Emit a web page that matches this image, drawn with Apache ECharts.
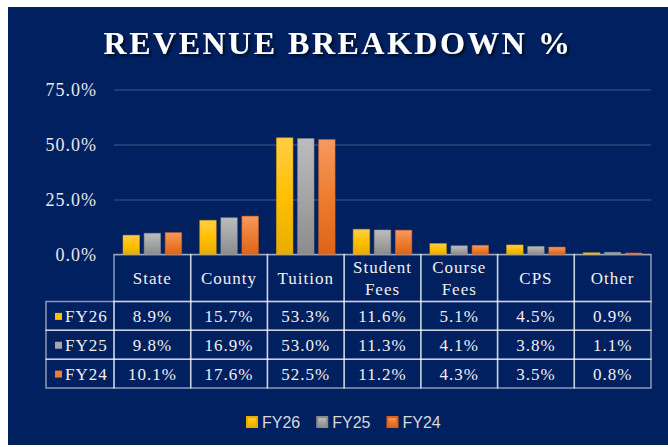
<!DOCTYPE html>
<html>
<head>
<meta charset="utf-8">
<script src="https://cdn.jsdelivr.net/npm/echarts@6/dist/echarts.min.js"></script>
<style>
  html, body { margin: 0; padding: 0; background: #fff; }
  #main { position: absolute; left: 8px; top: 7px; width: 660px; height: 438px; }
  #main text { letter-spacing: 1px; }
  #main text[style*="32px"] { letter-spacing: 2.5px; }
  #main text[style*="16px"] { letter-spacing: 0; }
</style>
</head>
<body>
<div id="main"></div>
<script>
// categories and values (percent of revenue)
var categories = ['State', 'County', 'Tuition', 'Student\nFees', 'Course\nFees', 'CPS', 'Other'];
var years = ['FY26', 'FY25', 'FY24'];
var fy26 = [8.9, 15.7, 53.3, 11.6, 5.1, 4.5, 0.9];
var fy25 = [9.8, 16.9, 53.0, 11.3, 4.1, 3.8, 1.1];
var fy24 = [10.1, 17.6, 52.5, 11.2, 4.3, 3.5, 0.8];
var yTicks = [0, 25, 50, 75];

var seriesValues = [fy26, fy25, fy24];
var colors = ['#ffc000', '#a5a5a5', '#ed7d31'];
var grads = [
  ['#ffcd4a', '#ffc000', '#e6ad00'],
  ['#bcbcbc', '#a5a5a5', '#8c8c8c'],
  ['#f59a62', '#ed7d31', '#dc6418']
];
var lineCol = 'rgba(255,255,255,0.55)';
var serif = '"Liberation Serif", "Times New Roman", serif';
var textCol = '#f0f0f0';

function pct(v) { return v.toFixed(1) + '%'; }

var myChart = echarts.init(document.getElementById('main'), null, { renderer: 'svg' });

var barSeries = years.map(function (name, k) {
  return {
    name: name,
    type: 'bar',
    xAxisIndex: 0,
    yAxisIndex: 0,
    barWidth: 17,
    barGap: '24%',
    data: seriesValues[k],
    itemStyle: {
      color: new echarts.graphic.LinearGradient(0, 0, 0, 1, [
        { offset: 0, color: grads[k][0] },
        { offset: 0.5, color: grads[k][1] },
        { offset: 1, color: grads[k][2] }
      ]),
      borderColor: grads[k][2],
      borderWidth: 0.5
    }
  };
});

// data table under the bars, one column per category
var tableSeries = {
  type: 'custom',
  name: 'table',
  xAxisIndex: 1,
  yAxisIndex: 1,
  clip: false,
  silent: true,
  data: categories.map(function (c, i) { return [i, 0]; }),
  renderItem: function (params, api) {
    var i = api.value(0);
    var cs = params.coordSys;
    var cx = api.coord([i, 0])[0];
    var w = api.size([1, 0])[0];
    var x0 = cx - w / 2;
    var headH = 47;
    var rowH = (cs.height - headH) / 3;
    var kids = [];
    kids.push({
      type: 'rect',
      shape: { x: x0, y: cs.y, width: w, height: headH },
      style: { fill: 'none', stroke: lineCol, lineWidth: 1.5 }
    });
    kids.push({
      type: 'text',
      style: {
        text: categories[i], x: cx, y: cs.y + headH / 2,
        align: 'center', verticalAlign: 'middle',
        fill: textCol, font: '17px ' + serif, lineHeight: 22
      }
    });
    for (var r = 0; r < 3; r++) {
      var ry = cs.y + headH + r * rowH;
      kids.push({
        type: 'rect',
        shape: { x: x0, y: ry, width: w, height: rowH },
        style: { fill: 'none', stroke: lineCol, lineWidth: 1.5 }
      });
      kids.push({
        type: 'text',
        style: {
          text: pct(seriesValues[r][i]), x: cx, y: ry + rowH / 2 + 1,
          align: 'center', verticalAlign: 'middle',
          fill: textCol, font: '17px ' + serif
        }
      });
      if (i === 0) {
        var lw = 68;
        kids.push({
          type: 'rect',
          shape: { x: x0 - lw, y: ry, width: lw, height: rowH },
          style: { fill: 'none', stroke: lineCol, lineWidth: 1.5 }
        });
        kids.push({
          type: 'rect',
          shape: { x: x0 - lw + 9, y: ry + rowH / 2 - 3, width: 7, height: 7 },
          style: { fill: colors[r] }
        });
        kids.push({
          type: 'text',
          style: {
            text: years[r], x: x0 - lw + 19, y: ry + rowH / 2 + 1,
            align: 'left', verticalAlign: 'middle',
            fill: textCol, font: '17px ' + serif
          }
        });
      }
    }
    return { type: 'group', children: kids };
  }
};

myChart.setOption({
  backgroundColor: '#002060',
  animation: false,
  title: {
    text: 'REVENUE BREAKDOWN %',
    left: 'center',
    top: 15,
    textStyle: {
      color: '#ffffff',
      fontFamily: serif,
      fontWeight: 'bold',
      fontSize: 32,
      textShadowColor: 'rgba(0,0,0,0.7)',
      textShadowBlur: 3,
      textShadowOffsetX: 2,
      textShadowOffsetY: 2
    }
  },
  legend: {
    data: years,
    left: 233,
    top: 402,
    icon: 'rect',
    itemWidth: 10,
    itemHeight: 10,
    itemGap: 16,
    textStyle: { color: '#d9d9d9', fontFamily: '"Liberation Sans", Arial, sans-serif', fontSize: 16 }
  },
  grid: [
    { left: 106, right: 17, top: 83, height: 164.5 },
    { left: 106, right: 17, top: 247.5, height: 133.5 }
  ],
  xAxis: [
    {
      type: 'category', gridIndex: 0, data: categories,
      axisLine: { show: false }, axisTick: { show: false }, axisLabel: { show: false }
    },
    {
      type: 'category', gridIndex: 1, data: categories, show: false
    }
  ],
  yAxis: [
    {
      type: 'value', gridIndex: 0,
      min: yTicks[0], max: yTicks[yTicks.length - 1], interval: 25,
      axisLine: { show: false }, axisTick: { show: false },
      axisLabel: {
        color: '#e8e8e8', fontFamily: serif, fontSize: 18, margin: 17,
        formatter: function (v) { return pct(v); }
      },
      splitLine: { lineStyle: { color: 'rgba(255,255,255,0.18)', width: 1.5 } }
    },
    { type: 'value', gridIndex: 1, min: 0, max: 1, show: false }
  ],
  series: barSeries.concat([tableSeries])
});
</script>
</body>
</html>
